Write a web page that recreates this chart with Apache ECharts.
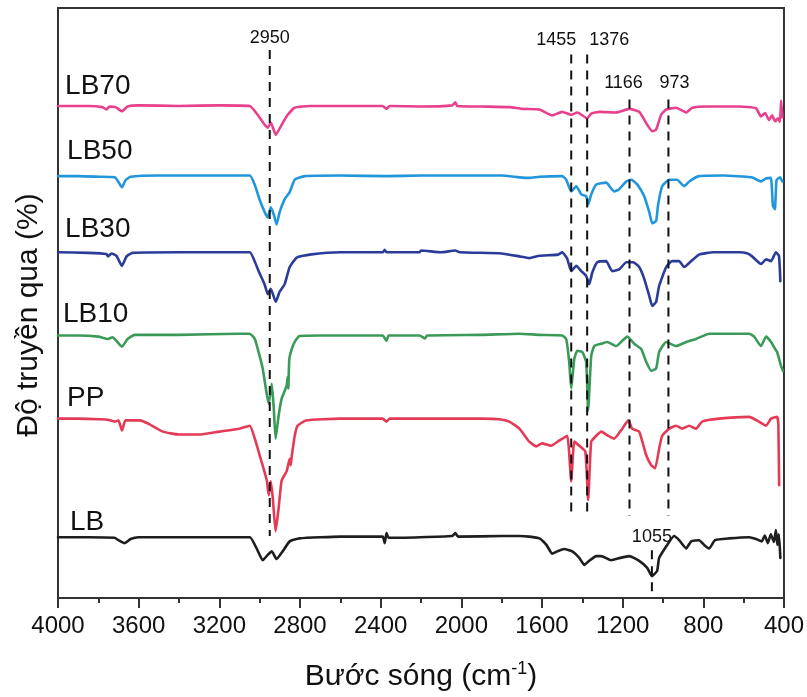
<!DOCTYPE html>
<html>
<head>
<meta charset="utf-8">
<script src="https://cdn.jsdelivr.net/npm/echarts@6/dist/echarts.min.js"></script>
<style>
  html, body { margin: 0; padding: 0; background: #fff; }
  #chart { width: 807px; height: 697px; }
</style>
</head>
<body>
<div id="chart"></div>
<script>
// FTIR spectra, stacked with vertical offsets: [wavenumber (cm-1), offset transmittance]
const lb70 = [[4000,83.4],[3850,83.4],[3780,83.2],[3760,82.8],[3745,83.3],[3715,83.2],[3683,82.5],[3655,83.3],[3600,83.5],[3400,83.4],[3200,83.5],[3049,83.4],[3010,81.9],[2975,80.2],[2960,79.7],[2945,80.6],[2920,78.5],[2891,80.2],[2861,81.9],[2826,83.1],[2752,83.4],[2500,83.4],[2390,83.4],[2371,82.9],[2355,83.4],[2200,83.3],[2045,83.5],[2030,84.0],[2020,83.4],[1900,83.3],[1760,83.2],[1700,82.9],[1613,82.8],[1549,81.8],[1500,82.4],[1455,81.9],[1425,82.3],[1376,81.3],[1356,82.1],[1316,82.4],[1232,82.3],[1167,82.9],[1118,82.4],[1078,80.2],[1053,79.1],[1034,79.4],[1009,81.9],[984,82.8],[935,83.1],[885,82.3],[855,83.1],[780,83.3],[620,83.3],[539,83.0],[514,81.6],[494,82.2],[474,81.0],[459,81.8],[444,80.8],[430,81.3],[420,80.7],[414,84.3],[408,81.5]];

const lb50 = [[4000,71.5],[3900,71.5],[3800,71.4],[3718,71.3],[3700,70.5],[3683,69.6],[3665,70.8],[3640,71.4],[3500,71.6],[3300,71.6],[3049,71.6],[3024,70.0],[3000,67.5],[2975,65.4],[2960,64.5],[2945,66.2],[2930,65.0],[2916,63.3],[2901,65.4],[2876,67.6],[2851,68.8],[2826,70.9],[2776,71.5],[2600,71.6],[2371,71.5],[2200,71.6],[1800,71.6],[1712,71.3],[1663,71.2],[1613,71.4],[1500,71.5],[1480,70.9],[1455,68.9],[1430,69.8],[1405,68.4],[1381,68.1],[1371,66.7],[1356,68.4],[1331,70.1],[1282,70.4],[1242,68.9],[1217,69.3],[1182,70.6],[1157,70.9],[1128,70.1],[1093,68.1],[1068,65.4],[1053,63.5],[1034,63.9],[1024,66.7],[1004,69.8],[969,70.9],[930,70.9],[895,69.8],[870,70.6],[821,71.5],[700,71.6],[560,71.3],[514,70.6],[490,71.1],[465,71.2],[455,66.5],[445,65.9],[437,70.8],[420,71.3],[408,70.6]];

const lb30 = [[4000,58.6],[3850,58.5],[3760,58.3],[3752,57.9],[3735,58.4],[3710,58.0],[3683,56.3],[3660,57.9],[3630,58.5],[3400,58.6],[3049,58.6],[3024,57.0],[3000,55.0],[2975,53.1],[2960,51.5],[2945,52.4],[2920,50.2],[2901,51.9],[2876,53.2],[2851,56.1],[2816,57.7],[2752,58.2],[2600,58.6],[2390,58.6],[2380,59.0],[2371,58.6],[2207,58.6],[2200,58.9],[2100,58.6],[2030,58.9],[2009,58.6],[1800,58.4],[1712,57.9],[1663,57.6],[1613,58.0],[1520,58.2],[1500,58.6],[1475,57.5],[1455,55.4],[1430,56.3],[1405,55.4],[1381,54.6],[1366,53.2],[1350,55.2],[1326,56.9],[1282,57.1],[1252,55.4],[1217,55.7],[1182,56.9],[1148,56.9],[1118,56.1],[1093,54.1],[1068,51.2],[1053,49.5],[1034,50.2],[1019,52.9],[984,56.1],[955,57.1],[920,57.1],[895,56.1],[860,57.1],[821,58.2],[750,58.6],[623,58.6],[580,58.4],[558,57.9],[514,56.6],[489,57.4],[464,57.1],[440,58.6],[425,58.0],[418,53.7]];

const lb10 = [[4000,44.5],[3900,44.5],[3800,44.3],[3752,43.9],[3730,44.2],[3683,42.6],[3655,43.9],[3620,44.6],[3400,44.6],[3100,44.8],[3049,44.8],[3024,43.9],[3000,41.0],[2985,38.9],[2965,34.6],[2955,32.9],[2940,36.3],[2930,32.1],[2921,27.0],[2906,30.9],[2891,33.8],[2876,35.1],[2866,36.0],[2861,37.5],[2858,35.5],[2853,40.5],[2841,42.2],[2826,43.4],[2802,44.4],[2700,44.5],[2390,44.5],[2371,43.6],[2360,44.5],[2207,44.5],[2180,44.0],[2170,44.5],[1900,44.6],[1712,44.8],[1613,44.6],[1500,44.5],[1480,43.9],[1465,40.0],[1455,35.5],[1440,40.5],[1425,41.9],[1400,41.7],[1381,40.0],[1371,31.8],[1356,41.0],[1341,42.7],[1306,43.1],[1277,43.4],[1232,42.7],[1202,43.6],[1177,44.3],[1143,43.1],[1108,42.2],[1083,40.0],[1058,38.5],[1034,38.9],[1019,41.7],[984,43.4],[935,42.7],[885,43.4],[836,43.9],[771,44.8],[573,44.8],[548,44.3],[514,42.7],[489,44.3],[464,43.4],[444,42.2],[434,41.7],[415,39.4],[405,38.5]];

const pp = [[4000,30.4],[3900,30.4],[3792,30.3],[3752,30.2],[3718,29.9],[3700,30.1],[3683,28.4],[3665,30.1],[3594,30.1],[3550,29.5],[3480,28.2],[3400,27.7],[3300,27.7],[3200,28.2],[3100,28.7],[3049,29.2],[3024,27.0],[2995,23.6],[2965,20.0],[2955,17.4],[2945,19.8],[2935,17.0],[2921,11.3],[2906,15.2],[2891,19.9],[2866,21.5],[2851,23.6],[2846,22.5],[2841,24.0],[2826,27.5],[2812,29.2],[2770,30.1],[2600,30.4],[2390,30.4],[2371,29.9],[2355,30.4],[2100,30.4],[1900,30.4],[1811,30.3],[1762,29.9],[1712,28.7],[1663,26.5],[1628,25.7],[1600,26.2],[1555,25.8],[1514,26.7],[1475,27.5],[1455,19.8],[1440,26.5],[1415,25.8],[1385,24.8],[1371,16.6],[1356,26.5],[1331,27.5],[1306,28.2],[1272,27.5],[1242,27.0],[1202,28.7],[1172,30.1],[1153,28.7],[1118,28.2],[1083,24.2],[1058,22.5],[1039,22.0],[1019,25.3],[1004,27.5],[969,28.7],[935,29.2],[905,28.7],[870,29.2],[836,28.7],[806,29.9],[722,30.4],[573,30.7],[524,29.9],[489,29.2],[464,30.4],[434,30.7],[428,29.5],[424,19.1]];

const lb = [[4000,10.3],[3850,10.3],[3720,10.2],[3700,9.8],[3670,9.3],[3640,10.0],[3600,10.3],[3300,10.3],[3049,10.3],[3015,8.4],[2985,6.4],[2960,7.3],[2940,7.9],[2916,6.6],[2886,7.9],[2851,9.6],[2802,10.1],[2600,10.4],[2390,10.4],[2380,9.3],[2371,11.0],[2360,10.2],[2045,10.5],[2030,11.0],[2015,10.4],[1800,10.5],[1712,10.5],[1663,10.4],[1613,10.1],[1578,9.0],[1549,7.5],[1524,7.9],[1490,8.3],[1450,7.9],[1415,6.8],[1390,5.6],[1366,6.3],[1331,7.1],[1306,7.1],[1257,6.4],[1212,6.8],[1167,7.1],[1118,6.3],[1078,5.1],[1055,3.7],[1029,4.6],[1019,6.8],[979,9.0],[945,10.5],[920,9.8],[885,8.4],[860,9.6],[821,9.8],[796,9.0],[771,8.4],[742,9.8],[672,10.1],[573,10.3],[539,10.0],[510,9.6],[495,10.6],[480,9.3],[465,10.8],[450,9.5],[440,11.5],[433,9.0],[425,10.8],[418,6.8]];

// Sample names and where each name sits (wavenumber, level)
const sampleNames = ['LB70', 'LB50', 'LB30', 'LB10', 'PP', 'LB'];
const sampleNameAnchors = [[3965, 86.7], [3955, 75.7], [3965, 62.5], [3975, 48.1], [3955, 33.8], [3941, 12.8]];

// Assigned absorption bands (cm-1) and the vertical extent of each guide line
const bandWavenumbers = [2950, 1455, 1376, 1166, 973, 1055];
const bandLineTop = [92.9, 92.1, 92.1, 84.5, 84.5, 8.1];
const bandLineBottom = [10.5, 14.4, 13.5, 13.9, 13.9, 0];
const bandLabelLevel = [94.9, 94.6, 94.6, 87.3, 87.3, 10.3];

const FONT = "'Liberation Sans', Arial, sans-serif";
const INK = '#111';
const spectra = [
  { name: 'LB70', data: lb70, color: '#e8408c' },
  { name: 'LB50', data: lb50, color: '#2196dc' },
  { name: 'LB30', data: lb30, color: '#2a3c98' },
  { name: 'LB10', data: lb10, color: '#3c9a58' },
  { name: 'PP',   data: pp,   color: '#e53a55' },
  { name: 'LB',   data: lb,   color: '#1e1e1e' }
];
const bandLabelOffsets = [[0, 0], [-15, 0], [22, 0], [-6, 0], [6, 0], [0, 0]];

const series = [];
spectra.forEach(s => {
  series.push({
    name: s.name, type: 'line', data: s.data, showSymbol: false, symbol: 'none',
    smooth: 0.15,
    lineStyle: { color: s.color, width: 2.6, join: 'round', cap: 'round' }, z: 2, animation: false
  });
});
bandWavenumbers.forEach((wn, i) => {
  series.push({
    type: 'line', data: [[wn, bandLineTop[i]], [wn, bandLineBottom[i]]],
    symbol: 'none', lineStyle: { color: INK, width: 2, type: [9, 7] }, z: 3, animation: false
  });
});
series.push({
  type: 'scatter', symbolSize: 0, z: 4, animation: false,
  itemStyle: { opacity: 1 },
  data: bandWavenumbers.map((wn, i) => ({
    value: [wn, bandLabelLevel[i]],
    label: { offset: bandLabelOffsets[i] }
  })),
  label: {
    show: true, position: 'inside', color: INK, fontSize: 18, fontFamily: FONT,
    formatter: p => String(p.value[0])
  }
});
series.push({
  type: 'scatter', symbolSize: 0, z: 4, animation: false,
  itemStyle: { opacity: 1 },
  data: sampleNames.map((n, i) => [sampleNameAnchors[i][0], sampleNameAnchors[i][1], n]),
  label: {
    show: true, position: 'right', distance: 0, color: INK, fontSize: 28, fontFamily: FONT,
    formatter: p => p.value[2]
  }
});

const chart = echarts.init(document.getElementById('chart'), null, { renderer: 'canvas' });
chart.setOption({
  backgroundColor: '#fff',
  animation: false,
  grid: { left: 58, right: 22, top: 8, bottom: 97, show: true, borderColor: '#333', borderWidth: 2, containLabel: false },
  xAxis: {
    type: 'value', inverse: true, min: 400, max: 4000, interval: 400,
    name: '{t|Bước sóng (cm}{s|-1}{t|)}', nameLocation: 'middle', nameGap: 62,
    nameTextStyle: {
      fontFamily: FONT, color: INK,
      rich: {
        t: { fontSize: 30, fontFamily: FONT, color: INK },
        s: { fontSize: 18, fontFamily: FONT, color: INK, padding: [0, 0, 16, 0] }
      }
    },
    axisLine: { show: true, lineStyle: { color: '#333', width: 2 } },
    axisTick: { show: true, inside: false, length: 10, lineStyle: { color: '#333', width: 2 } },
    minorTick: { show: true, splitNumber: 2, length: 5, lineStyle: { color: '#333', width: 2 } },
    axisLabel: { fontSize: 24, fontFamily: FONT, color: INK, margin: 16, formatter: v => String(v) },
    splitLine: { show: false }
  },
  yAxis: {
    type: 'value', min: 0, max: 100,
    name: 'Độ truyền qua (%)', nameLocation: 'middle', nameGap: 14, nameRotate: 90,
    nameTextStyle: { fontSize: 30, fontFamily: FONT, color: INK, padding: [0, 24, 0, 0] },
    axisLine: { show: true, lineStyle: { color: '#333', width: 2 } },
    axisTick: { show: false }, axisLabel: { show: false }, splitLine: { show: false }
  },
  series: series
});
</script>
</body>
</html>
